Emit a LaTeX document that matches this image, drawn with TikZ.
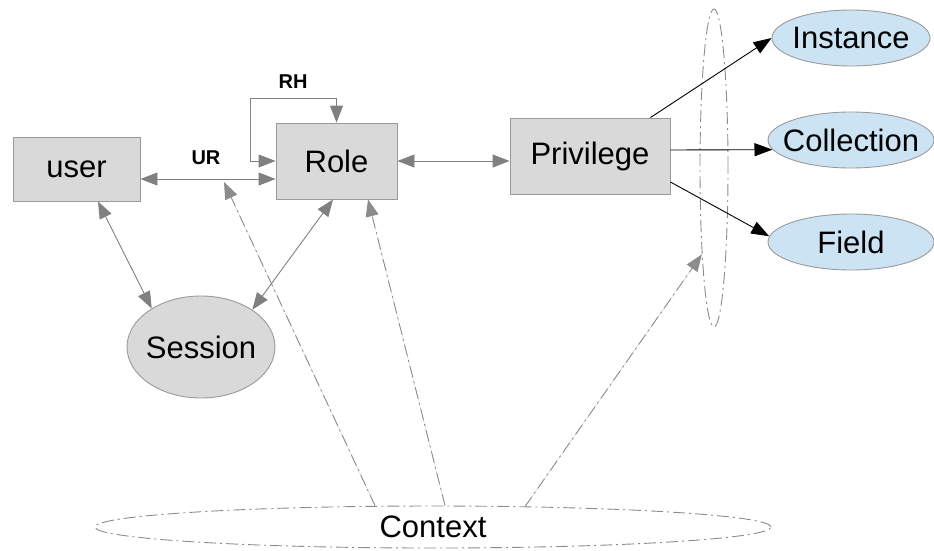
\documentclass[tikz,border=0pt]{standalone}
\usepackage{fontspec}
\setmainfont{Liberation Sans}
\usetikzlibrary{shapes.geometric,arrows.meta}
\definecolor{boxfill}{HTML}{D9D9D9}
\definecolor{boxline}{HTML}{9A9A9A}
\definecolor{bluefill}{HTML}{CCE3F3}
\definecolor{arrgray}{HTML}{808080}
\definecolor{dashgray}{HTML}{8C8C8C}
\tikzset{
  box/.style={draw=boxline, fill=boxfill, line width=0.9pt, inner sep=0pt, font=\fontsize{31}{35}\selectfont},
  oval/.style={ellipse, draw=boxline, fill=bluefill, line width=0.9pt, inner xsep=-15pt, inner ysep=0pt, font=\fontsize{31}{35}\selectfont},
  gar/.style={draw=arrgray, line width=0.9pt, {Triangle[length=17pt,width=13pt]}-{Triangle[length=17pt,width=13pt]}, color=arrgray},
  bar/.style={draw=black, line width=0.9pt, -{Triangle[length=18pt,width=13pt]}},
  dd/.style={draw=dashgray, line width=0.9pt, dash pattern=on 12pt off 4pt on 2pt off 4pt},
  ddar/.style={dd, -{Triangle[length=17pt,width=13pt]}, fill=arrgray},
  lbl/.style={font=\bfseries\fontsize{20}{24}\selectfont},
}
\begin{document}
\begin{tikzpicture}[x=1pt,y=-1pt]
\useasboundingbox (0,0) rectangle (934,550);
% nodes
\node[box, minimum width=127pt, minimum height=64pt] (user) at (76.5,169) {user};
\node[box, minimum width=121pt, minimum height=76pt] (Role) at (336.5,161) {Role};
\node[box, minimum width=160pt, minimum height=76pt] (Priv) at (590,156) {Privilege};
\node[oval, minimum width=158pt, minimum height=56pt] (Inst) at (851,38) {Instance};
\node[oval, minimum width=166pt, minimum height=56pt] (Coll) at (851,140) {Collection};
\node[oval, minimum width=166pt, minimum height=56pt] (Field) at (851,242) {Field};
\node[ellipse, draw=boxline, fill=boxfill, line width=0.9pt, inner xsep=-10pt, inner ysep=0pt, minimum width=148pt, minimum height=102pt, font=\fontsize{31}{35}\selectfont] (Sess) at (201,347) {Session};
\node[ellipse, dd, minimum width=28pt, minimum height=318pt, inner sep=0pt] (grp) at (714,168) {};
\node[ellipse, dd, minimum width=676pt, minimum height=42pt, inner sep=0pt] (Ctx) at (433,527) {};
\node[font=\fontsize{31}{35}\selectfont] (ctxt) at (433,527) {Context};
% labels
\node[lbl] (ur) at (206,158) {UR};
\node[lbl] (rh) at (293,82) {RH};
% connectors
\draw[gar] ([yshift=-10pt]user.east) -- ([yshift=-10pt]user.east -| Role.west);
\coordinate (rhc) at (250,98);
\draw[gar] (Role.west) -| (rhc) -| (Role.north);
\draw[gar] (Role.east) -- (Role.east -| Priv.west);
\draw[bar] ([xshift=-20pt]Priv.north east) -- (Inst.west);
\draw[bar] ([yshift=6pt]Priv.east) -- (Coll.187);
\draw[bar] ([yshift=-26pt]Priv.east) -- (Field.176);
\draw[gar] ([xshift=21.5pt]user.south) -- (Sess.142);
\draw[gar] ([xshift=-3.5pt]Role.south) -- (Sess.36);
\coordinate (urtip) at (224,182);
\draw[ddar] ([xshift=-58pt]Ctx.north) -- (urtip);
\draw[ddar] ([xshift=12pt]Ctx.north) -- ([xshift=31.5pt]Role.south);
\draw[ddar] ([xshift=92pt,yshift=-1pt]Ctx.north) -- (grp.262);
\end{tikzpicture}
\end{document}
